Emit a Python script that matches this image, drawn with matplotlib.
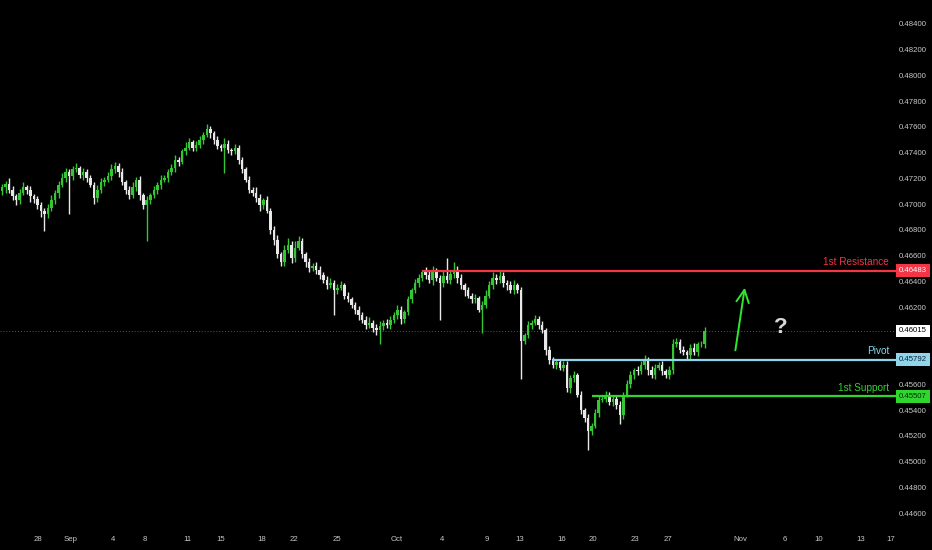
import matplotlib

matplotlib.use("Agg")
import matplotlib.pyplot as plt
import numpy as np

plt.rcParams["font.family"] = ["Liberation Sans", "DejaVu Sans"]

PIP = 0.0001

# 4h-style candles, open = previous close
first_open = 0.4710
closes = [
    0.4713, 0.4716, 0.4711, 0.4706, 0.4703, 0.4709, 0.4713, 0.4711, 0.4706, 0.4704,
    0.4699, 0.4695, 0.4692, 0.4697, 0.4703, 0.4709, 0.4715, 0.4720, 0.4725, 0.4722,
    0.4727, 0.4728, 0.4723, 0.4725, 0.4720, 0.4715, 0.4705, 0.4711, 0.4717, 0.4719,
    0.4722, 0.4727, 0.4730, 0.4725, 0.4717, 0.4711, 0.4707, 0.4713, 0.4719, 0.4707,
    0.4699, 0.4703, 0.4707, 0.4711, 0.4715, 0.4719, 0.4720, 0.4725, 0.4728, 0.4734,
    0.4733, 0.4741, 0.4744, 0.4748, 0.4744, 0.4746, 0.4750, 0.4754, 0.4758, 0.4755,
    0.4750, 0.4745, 0.4744, 0.4747, 0.4742, 0.4741, 0.4744, 0.4734, 0.4727, 0.4719,
    0.4711, 0.4709, 0.4705, 0.4699, 0.4703, 0.4695, 0.4680, 0.4672, 0.4661, 0.4655,
    0.4664, 0.4668, 0.4658, 0.4666, 0.4671, 0.4661, 0.4655, 0.4650, 0.4652, 0.4649,
    0.4645, 0.4641, 0.4637, 0.4639, 0.4633, 0.4635, 0.4637, 0.4629, 0.4626, 0.4622,
    0.4618, 0.4614, 0.4610, 0.4606, 0.4608, 0.4604, 0.4602, 0.4605, 0.4608, 0.4606,
    0.4610, 0.4614, 0.4618, 0.4611, 0.4616, 0.4626, 0.4633, 0.4639, 0.4643, 0.4647,
    0.4645, 0.4641, 0.4647, 0.4643, 0.4639, 0.4644, 0.4641, 0.4646, 0.4649, 0.4643,
    0.4637, 0.4633, 0.4629, 0.4626, 0.4627, 0.4618, 0.4622, 0.4629, 0.4637, 0.4643,
    0.4641, 0.4644, 0.4639, 0.4637, 0.4633, 0.4637, 0.4633, 0.4594, 0.4598, 0.4606,
    0.4608, 0.4611, 0.4606, 0.4602, 0.4587, 0.4579, 0.4575, 0.4577, 0.4573, 0.4575,
    0.4557, 0.4565, 0.4567, 0.4552, 0.4540, 0.4534, 0.4524, 0.4528, 0.4538, 0.4548,
    0.4549, 0.4552, 0.4546, 0.4549, 0.4544, 0.4536, 0.4552, 0.4560, 0.4567, 0.4571,
    0.4570, 0.4575, 0.4579, 0.4571, 0.4567, 0.4573, 0.4575, 0.4570, 0.4567, 0.4571,
    0.4591, 0.4593, 0.4587, 0.4585, 0.4583, 0.4588, 0.4585, 0.4591, 0.4591, 0.46015,
]
upper_wick = [
    3, 2, 4, 3, 2, 3, 4, 2, 3, 2,
    2, 3, 2, 3, 4, 2, 3, 4, 3, 2,
    3, 4, 2, 3, 2, 3, 2, 4, 3, 2,
    3, 4, 3, 2, 3, 2, 3, 4, 2, 3,
    2, 3, 2, 3, 2, 4, 3, 2, 3, 4,
    3, 2, 4, 3, 2, 3, 3, 2, 4, 3,
    2, 3, 2, 4, 3, 2, 3, 2, 3, 2,
    3, 2, 4, 3, 2, 3, 2, 3, 4, 2,
    4, 6, 3, 5, 4, 3, 2, 3, 2, 3,
    3, 2, 3, 4, 2, 3, 3, 2, 3, 2,
    2, 3, 2, 3, 4, 2, 3, 4, 2, 3,
    3, 2, 4, 3, 2, 3, 2, 3, 3, 2,
    4, 3, 5, 3, 2, 4, 14, 3, 6, 3,
    3, 2, 3, 2, 3, 2, 3, 4, 3, 4,
    3, 5, 3, 2, 3, 4, 2, 3, 2, 3,
    2, 3, 2, 3, 2, 3, 2, 3, 2, 3,
    3, 2, 3, 2, 3, 2, 3, 2, 3, 3,
    3, 3, 2, 3, 2, 3, 2, 3, 3, 2,
    3, 3, 4, 2, 3, 3, 2, 3, 2, 3,
    4, 3, 2, 3, 2, 3, 4, 2, 3, 3,
]
lower_wick = [
    3, 4, 2, 3, 4, 3, 2, 3, 4, 3,
    3, 5, 13, 3, 2, 3, 4, 2, 3, 30,
    3, 2, 3, 4, 3, 2, 5, 3, 2, 3,
    2, 3, 3, 4, 2, 3, 3, 2, 3, 4,
    3, 28, 3, 2, 3, 3, 2, 3, 2, 3,
    3, 2, 3, 2, 3, 3, 2, 3, 2, 4,
    3, 2, 3, 20, 2, 3, 2, 3, 3, 2,
    2, 3, 3, 4, 3, 2, 3, 4, 3, 3,
    3, 2, 4, 3, 2, 3, 4, 3, 2, 3,
    3, 2, 3, 2, 19, 3, 2, 3, 2, 3,
    3, 4, 2, 3, 2, 3, 4, 11, 3, 2,
    3, 2, 3, 4, 3, 2, 3, 2, 3, 3,
    3, 2, 4, 3, 29, 3, 2, 3, 3, 4,
    3, 4, 2, 3, 3, 2, 18, 3, 2, 3,
    3, 2, 3, 4, 2, 3, 2, 30, 3, 2,
    3, 2, 3, 2, 4, 3, 2, 3, 2, 3,
    3, 4, 3, 2, 3, 3, 15, 3, 2, 3,
    2, 3, 2, 3, 3, 7, 3, 2, 3, 3,
    3, 2, 3, 4, 2, 3, 2, 3, 2, 3,
    3, 2, 3, 2, 3, 3, 2, 3, 2, 3,
]

date_ticks = [10.2, 19.3, 31.4, 40.5, 52.4, 61.8, 73.7, 82.7, 94.9, 111.9, 124.6,
              137.4, 146.5, 158.4, 167.4, 179.3, 188.7, 209.1, 221.8, 231.2, 243.1, 251.8]
date_labels = ["28", "Sep", "4", "8", "11", "15", "18", "22", "25", "Oct", "4",
               "9", "13", "16", "20", "23", "27", "Nov", "6", "10", "13", "17"]

# scale labels that are visible (0.458 and 0.460 sit under the price tags)
price_ticks = [0.446, 0.448, 0.450, 0.452, 0.454, 0.456, 0.462, 0.464,
               0.466, 0.468, 0.470, 0.472, 0.474, 0.476, 0.478, 0.480, 0.482, 0.484]

level_names = ["1st Resistance", "Pivot", "1st Support"]
level_values = [0.46483, 0.45792, 0.45507]
level_start = [119.0, 155.8, 167.1]
level_colors = ["#f23645", "#8dd6ec", "#2ed62e"]
level_text_colors = ["white", "#102030", "#102010"]

UP = "#33c733"
DOWN = "#e8e8e8"
X_RIGHT = 253.5

closes_arr = np.array(closes)
opens = np.concatenate([[first_open], closes_arr[:-1]])
highs = np.maximum(opens, closes_arr) + np.array(upper_wick) * PIP
lows = np.minimum(opens, closes_arr) - np.array(lower_wick) * PIP
xs = np.arange(len(closes))
up = closes_arr >= opens
colors = np.where(up, UP, DOWN)

fig = plt.figure(figsize=(9.32, 5.5), dpi=100)
fig.patch.set_facecolor("black")

ax = fig.add_axes([0, 0, 897 / 932, 1])
ax.set_facecolor("black")
ax.set_xlim(-0.57, X_RIGHT)
ax.set_ylim(0.44313, 0.48586)
for spine in ax.spines.values():
    spine.set_visible(False)

ax.vlines(xs, lows, highs, colors=colors, linewidth=1.0, zorder=3)
body = np.maximum(np.abs(closes_arr - opens), 0.00004)
ax.bar(xs, body, bottom=np.minimum(opens, closes_arr), width=0.72, color=colors,
       linewidth=0, zorder=4)

last_price = closes[-1]
ax.axhline(last_price, color="#5a5a5a", linewidth=0.7, linestyle=(0, (1, 2)), zorder=1)

for name, value, start, color in zip(level_names, level_values, level_start, level_colors):
    ax.hlines(value, start, X_RIGHT, colors=color, linewidth=1.6, zorder=5)
    ax.annotate(name, (251.3, value), xytext=(0, 2.5), textcoords="offset points",
                ha="right", va="bottom", fontsize=7.2, color=color, zorder=6)

ax.annotate("", xy=(210.5, 0.46372), xytext=(207.6, 0.45843),
            arrowprops=dict(arrowstyle="->,head_length=0.9,head_width=0.45",
                            color="#2ee82e", linewidth=1.4))
ax.text(220.7, 0.46045, "?", fontsize=16, fontweight="bold", color="#d8d8d8",
        ha="center", va="center")

ax.set_yticks([])
ax.set_xticks(date_ticks, labels=date_labels)
ax.tick_params(axis="x", direction="in", length=0, pad=-10, labelsize=5.6,
               labelcolor="#c8c8c8")

price_ax = fig.add_axes([897 / 932, 0, 35 / 932, 1], zorder=3)
price_ax.set_facecolor("black")
price_ax.set_ylim(ax.get_ylim())
price_ax.set_xlim(0, 1)
price_ax.set_xticks([])
for spine in price_ax.spines.values():
    spine.set_visible(False)
price_ax.set_yticks(price_ticks, labels=[f"{v:.5f}" for v in price_ticks])
price_ax.tick_params(axis="y", direction="in", length=0, pad=-1.5, labelsize=5.6,
                     labelcolor="#c8c8c8")
plt.setp(price_ax.get_yticklabels(), ha="left")

box_values = [level_values[0], last_price, level_values[1], level_values[2]]
box_fill = [level_colors[0], "white", level_colors[1], level_colors[2]]
box_text = [level_text_colors[0], "black", level_text_colors[1], level_text_colors[2]]
for value, fill, tcolor in zip(box_values, box_fill, box_text):
    price_ax.text(0.06, value, f"{value:.5f}", transform=price_ax.get_yaxis_transform(),
                  ha="left", va="center", fontsize=5.6, color=tcolor, zorder=5,
                  bbox=dict(boxstyle="square,pad=0.35", fc=fill, ec="none"))

fig.savefig("out.png", dpi=100, facecolor="black")
